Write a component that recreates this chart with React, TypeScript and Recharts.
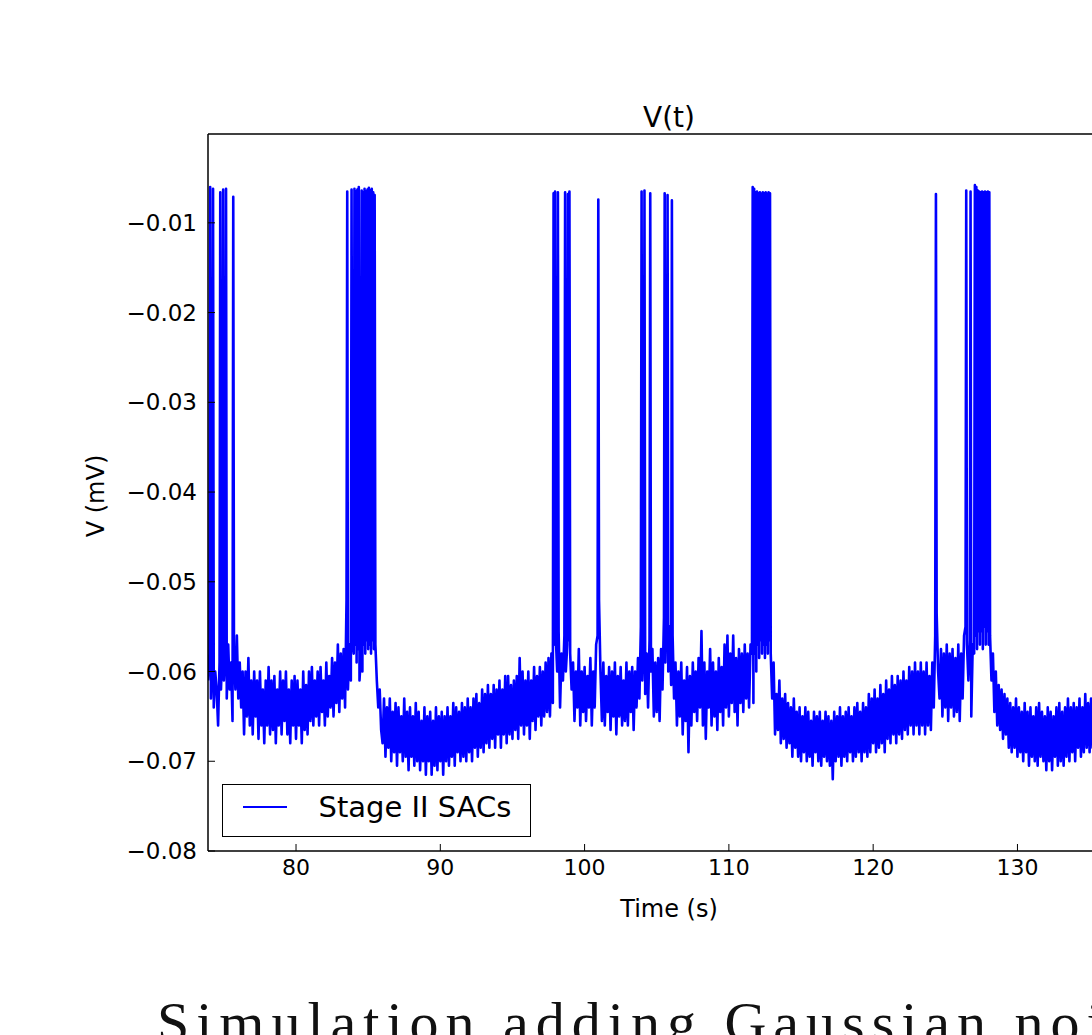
import React from 'react';
import { LineChart, Line, XAxis, YAxis, Legend } from 'recharts';

// Membrane trace, one sample every 0.1 s.
// Values are in units of 1e-3 (the axis shows them as V, e.g. -61 -> -0.061).
const STEP = 0.1;

const trace1Start = 73.9;
const trace1 = [
  -61,
  -58, -63, -59, -64, -60, -62, -66, -59, -62, -57, // 74
  -61, -58, -63, -57, -62, -59, -65.5, -58, -62, -56, // 75
  -63, -59, -64, -60, -67, -60, -65, -58.5, -66, -61, // 76
  -67, -60, -65, -61, -67.5, -60, -66, -62, -68, -61, // 77
  -66, -59.5, -67, -61, -66.5, -60.5, -68, -62, -66, -60, // 78
  -67, -61, -65.5, -60, -67, -62, -68, -61, -66, -60.5, // 79
  -67.5, -61, -66, -62, -68, -60, -66.5, -61.5, -67, -60, // 80
  -65.5, -59.5, -66, -61, -65, -60, -66, -59.5, -64.5, -61, // 81
  -66, -59, -65, -60.5, -64, -58.5, -65, -59, -63.5, -57, // 82
  -64.5, -58, -63, -57.5, -64, -52, -62, -57, -61, -56.5, // 83
];

const trace2Start = 84.0;
const trace2 = [
  -58, -57, -59, -57.5, -61, -58, -60, -57, -58, -56.5, // 84
  -57.5, -57, -58, -56.5, -57.5, -57, -61, -64, -62, -66.5, // 85
  -68, -63, -69.5, -64, -68.5, -63, -70, -64.5, -69, -63.5, // 86
  -70.5, -64, -69, -65, -70, -63, -69.5, -64.5, -71, -64, // 87
  -69.5, -65, -70.5, -63.5, -70, -64.5, -71, -65.5, -70, -64, // 88
  -71.5, -65, -70, -64.5, -71.5, -65.5, -70.5, -64, -71, -65, // 89
  -70, -64.5, -71.5, -65, -70, -64, -70.5, -65, -69.5, -63.5, // 90
  -70.5, -64, -69, -64.5, -70, -63.5, -69.5, -64, -70, -63, // 91
  -69, -64, -70, -63, -68.5, -62.5, -69.5, -63.5, -68.5, -62, // 92
  -69, -62.5, -68, -61.5, -68.5, -62.5, -67.5, -61.5, -68.5, -62, // 93
  -67, -61, -68.5, -62, -67, -60.5, -68, -60.5, -67, -61.5, // 94
  -67.5, -61, -66.5, -60.5, -67.5, -58.5, -66, -60, -67, -61, // 95
  -66, -60, -67.5, -61, -65.5, -59.5, -66.5, -60.5, -65, -59.5, // 96
  -66, -60, -65, -59, -64.5, -58.5, -65, -58, -63.5, // 97
];

const trace3Start = 97.9;
const trace3 = [
  -57,
  -56, -60, -55.5, -64, -58, -61, -56, -60, -57, -56.5, // 98
  -58, -62, -59, -65.5, -60, -64, -57.5, -66, -60, -64.5, // 99
  -59.5, -65.5, -60.5, -64, -58.5, -66, -60, -64, -57, -56, // 100
  -52, -60, -65.5, -59, -66, -60.5, -64.5, -59.5, -66.5, -60, // 101
  -65, -59, -67, -60.5, -65, -59.5, -66, -61, -65.5, -59, // 102
  -66, -60, -64.5, -59.5, -66.5, -60, -64, -58.5, -63, -55, // 103
  -61, -56.5, -62.5, -58, -64, -56.5, -60, -57.5, -65, -59, // 104
  -64.5, -58.5, -65.5, -57.5, -62, -54, -59, -52, -60, -55, // 105
  -61.5, -56, -63, -59, -66, -60, -65, -59, -67, -61, // 106
  -65.5, -59.5, -69, -60.5, -66, -59, -64.5, -60, -65.5, -58.5, // 107
  -64, -55.5, -66, -59, -67.5, -60, -64, -57.5, -66, -59, // 108
  -65, -60, -66.5, -58.5, -64.5, -59.5, -66, -57, -64, -56, // 109
  -65, -58, -63.5, -56, -64.5, -58.5, -66, -57.5, -63.5, -58, // 110
  -64.5, -57, -63, -58, -64, -57, // 111
];

const trace4Start = 111.6;
const trace4 = [
  -58, -63.5, -58, -60, // 111.6
  -57, -58.5, -56.5, -58, -57, -58.5, -57, -58, -56.5, -58, // 112
  -63, -59, -67, -62.5, -66.5, -61, -68, -63, -67.5, -62.5, // 113
  -68.5, -63.5, -68, -64, -69.5, -63, -68.5, -64.5, -69.5, -64, // 114
  -70, -65, -69, -64, -70, -64.5, -69.5, -65.5, -70.5, -64.5, // 115
  -69, -65, -70, -64.5, -70.5, -65.5, -69.5, -64.5, -70, -65, // 116
  -70.5, -65.5, -72, -64.5, -70, -65, -69.5, -64, -70.5, -65, // 117
  -69.5, -64.5, -70, -64, -69, -65, -70, -64, -69.5, -63.5, // 118
  -69, -64.5, -70, -63.5, -69, -64, -69.5, -62.5, -69, -63, // 119
  -68, -62, -69, -63, -68.5, -61.5, -68, -62.5, -69, -61, // 120
  -67.5, -62, -68, -60.5, -67, -61.5, -68, -60.5, -67, -61, // 121
  -67.5, -60, -66.5, -61, -67, -59.5, -66, -60, -67, -59, // 122
  -66, -60, -67, -59, -66, -60, -67, -59, -66, -60.5, // 123
  -66.5, -59, -64, -56, -53.5, // 124
];

const trace5Start = 124.5;
const trace5 = [
  -60, -63, -57.5, -65, -58, // 124.5
  -64, -57, -65.5, -58, -64, -57.5, -65, -58.5, -64.5, -57, // 125
  -65.5, -58, -63, -56, -55, -57, -61, -56.5, -65, -57, // 126
  -58, -56, -57.5, -55.5, -57, -55.5, -57.5, -55, -57, -55.5, // 127
  -57, -56, -61, -58, -64.5, -60, -66, -61.5, -66.5, -62, // 128
  -67.5, -62.5, -67, -63, -68.5, -63.5, -69, -64, -68.5, -63, // 129
  -69.5, -64, -69, -64.5, -70, -63.5, -69, -64.5, -70.5, -64, // 130
  -69.5, -65, -70, -64, -70.5, -63.5, -69.5, -64.5, -70, -65, // 131
  -71, -64, -70, -64.5, -71, -65, -69.5, -64, -70.5, -63.5, // 132
  -70, -64.5, -70.5, -64, -69.5, -63, -70, -64, -69, -63.5, // 133
  -70, -64, -68.5, -63, -69.5, -64, -69, -62.5, -68.5, -63.5, // 134
  -69, -63, -68.5, -64, -69, // 135
];

// Spike peaks: [time (s), peak value (1e-3)]
const spikes74 = [[74.05, -6.0], [74.25, -6.2], [74.75, -6.6], [74.95, -6.3], [75.15, -6.2], [75.65, -7.1]];
const spikes84 = [
  [83.55, -6.5], [83.85, -6.3], [84.05, -6.2], [84.15, -6.5], [84.25, -6.3], [84.35, -6.0],
  [84.55, -6.4], [84.65, -6.6], [84.75, -6.2], [84.85, -6.5], [84.95, -6.3], [85.05, -6.1],
  [85.15, -6.4], [85.25, -6.2], [85.35, -6.6], [85.45, -6.9],
];
const spikes98 = [[97.85, -6.7], [97.95, -6.5], [98.15, -6.6], [98.65, -6.6], [98.85, -6.8], [98.95, -6.5], [100.95, -7.4]];
const spikes104 = [[103.95, -6.5], [104.15, -6.4], [104.55, -6.7], [105.55, -6.7], [105.75, -6.9], [106.05, -7.5]];
const spikes112 = [
  [111.65, -6.0], [111.75, -6.2], [111.85, -6.6], [111.95, -6.5], [112.05, -6.7], [112.15, -6.6],
  [112.25, -6.8], [112.35, -6.6], [112.45, -6.7], [112.55, -6.6], [112.65, -6.8], [112.75, -6.6], [112.85, -6.7],
];
const spikes127 = [
  [124.35, -6.8], [126.45, -6.4], [126.75, -6.5], [127.05, -5.8], [127.15, -6.0], [127.25, -6.4],
  [127.35, -6.5], [127.45, -6.6], [127.55, -6.5], [127.65, -6.6], [127.75, -6.5], [127.85, -6.6],
  [127.95, -6.5], [128.05, -6.6],
];

const xTicks = [80, 90, 100, 110, 120, 130];
const yTicks = [-0.08, -0.07, -0.06, -0.05, -0.04, -0.03, -0.02, -0.01];

const traces: [number, number[]][] = [
  [trace1Start, trace1],
  [trace2Start, trace2],
  [trace3Start, trace3],
  [trace4Start, trace4],
  [trace5Start, trace5],
];
const allSpikes = [spikes74, spikes84, spikes98, spikes104, spikes112, spikes127];

const chartData = [
  ...traces.flatMap(([start, vals]) =>
    vals.map((v, i) => ({ t: Math.round((start + i * STEP) * 100) / 100, v: v / 1000 }))
  ),
  ...allSpikes.flat().map(([t, v]) => ({ t, v: v / 1000 })),
].sort((a, b) => a.t - b.t);

const FONT = '"DejaVu Sans", sans-serif';
const fmt = (v: number) => v.toFixed(2).replace('-', '\u2212');

const renderLegend = () => (
  <div
    style={{
      position: 'relative',
      width: 309,
      height: 53,
      boxSizing: 'border-box',
      border: '1.5px solid #000',
      background: '#fff',
    }}
  >
    <div style={{ position: 'absolute', left: 19.5, top: 20.5, width: 44, height: 2, background: '#0000ff' }} />
    <span
      style={{
        position: 'absolute',
        left: 95.5,
        top: 7.5,
        fontFamily: FONT,
        fontSize: 29,
        lineHeight: '29px',
        color: '#000',
        whiteSpace: 'nowrap',
      }}
    >
      Stage II SACs
    </span>
  </div>
);

const YLabel = () => (
  <text x={104} y={496} transform="rotate(-90 104 496)" textAnchor="middle" fontFamily={FONT} fontSize={24} fill="#000">
    V (mV)
  </text>
);

export default function App() {
  return (
    <div
      style={{
        position: 'absolute',
        left: 0,
        top: 0,
        width: 1092,
        height: 1035,
        overflow: 'hidden',
        background: '#fff',
      }}
    >
      <LineChart width={1160} height={1035} data={chartData} margin={{ top: 104, right: 30, bottom: 104, left: 108 }}>
        <XAxis
          xAxisId="bottom"
          dataKey="t"
          type="number"
          domain={[73.9, 137.8]}
          ticks={xTicks}
          interval={0}
          allowDataOverflow
          height={80}
          tickSize={-7}
          tickMargin={15}
          axisLine={{ stroke: '#000', strokeWidth: 1.5 }}
          tickLine={{ stroke: '#000', strokeWidth: 1 }}
          tick={{ fontFamily: FONT, fontSize: 22, fill: '#000' }}
          label={{ value: 'Time (s)', position: 'insideBottom', offset: 14, fontFamily: FONT, fontSize: 24, fill: '#000' }}
        />
        <XAxis
          xAxisId="top"
          orientation="top"
          dataKey="t"
          type="number"
          domain={[73.9, 137.8]}
          ticks={xTicks}
          interval={0}
          allowDataOverflow
          height={30}
          tickSize={-7}
          tick={false}
          axisLine={{ stroke: '#000', strokeWidth: 1.5 }}
          tickLine={{ stroke: '#000', strokeWidth: 1 }}
        />
        <YAxis
          type="number"
          domain={[-0.08, -0.0001]}
          ticks={yTicks}
          interval={0}
          allowDataOverflow
          width={100}
          tickSize={-7}
          tickMargin={18}
          tickFormatter={fmt}
          axisLine={{ stroke: '#000', strokeWidth: 1.5 }}
          tickLine={{ stroke: '#000', strokeWidth: 1 }}
          tick={{ fontFamily: FONT, fontSize: 23, fill: '#000' }}
          label={{ content: () => <YLabel /> }}
        />
        <Legend
          layout="vertical"
          align="center"
          verticalAlign="middle"
          content={renderLegend}
          wrapperStyle={{ left: 222, top: 784, width: 309, height: 53 }}
        />
        <Line
          xAxisId="bottom"
          type="linear"
          dataKey="v"
          name="Stage II SACs"
          stroke="#0000ff"
          strokeWidth={2.6}
          strokeLinejoin="round"
          dot={false}
          activeDot={false}
          isAnimationActive={false}
        />
      </LineChart>
      <svg width={1092} height={1035} style={{ position: 'absolute', left: 0, top: 0, pointerEvents: 'none' }}>
        <text x={669} y={126.5} textAnchor="middle" fontFamily={FONT} fontSize={28} fill="#000">
          V(t)
        </text>
        <text
          x={157}
          y={1042}
          fontFamily='"Liberation Serif", serif'
          fontSize={58}
          fill="#111"
          style={{ letterSpacing: '7px' }}
        >
          Simulation adding Gaussian noise
        </text>
      </svg>
    </div>
  );
}
